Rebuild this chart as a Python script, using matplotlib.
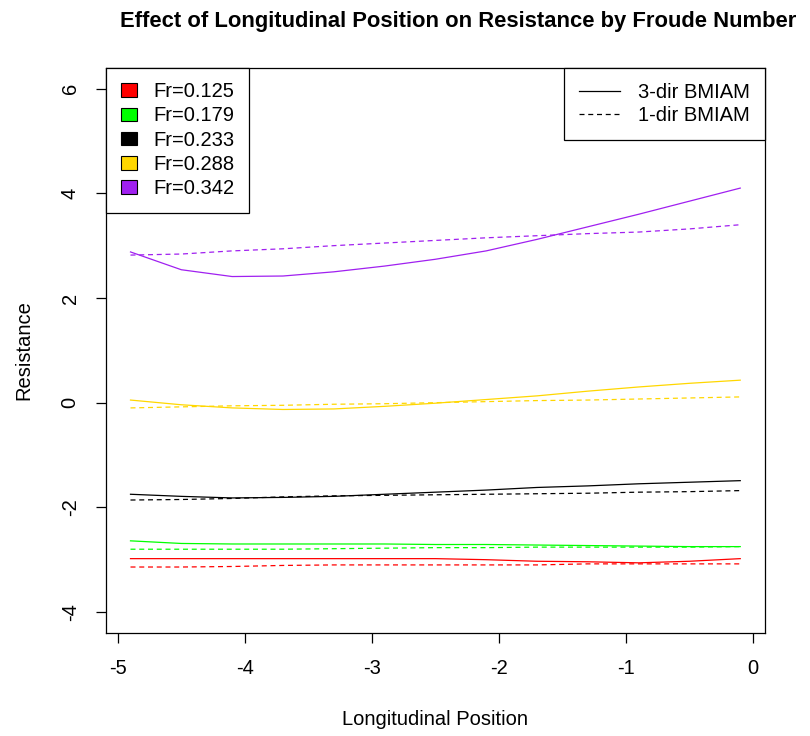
import matplotlib.pyplot as plt
from matplotlib.lines import Line2D
from matplotlib.patches import Patch

plt.rcParams['font.family'] = ['Liberation Sans', 'DejaVu Sans']
plt.rcParams['axes.unicode_minus'] = False

# longitudinal positions
pos = [-4.9, -4.5, -4.1, -3.7, -3.3, -2.9, -2.5, -2.1, -1.7, -1.3, -0.9, -0.5, -0.1]

froude = ['Fr=0.125', 'Fr=0.179', 'Fr=0.233', 'Fr=0.288', 'Fr=0.342']
colors = ['#FF0000', '#00FF00', '#000000', '#FFD700', '#A020F0']

# 3-dir BMIAM (solid)
res_3dir = [
    [-2.98, -2.98, -2.98, -2.98, -2.98, -2.98, -2.98, -3.00, -3.03, -3.04, -3.06, -3.03, -2.98],
    [-2.64, -2.69, -2.70, -2.70, -2.70, -2.70, -2.71, -2.71, -2.72, -2.73, -2.74, -2.75, -2.75],
    [-1.75, -1.79, -1.82, -1.81, -1.79, -1.75, -1.71, -1.67, -1.62, -1.59, -1.55, -1.52, -1.49],
    [0.05, -0.04, -0.10, -0.13, -0.12, -0.07, -0.01, 0.06, 0.13, 0.22, 0.30, 0.37, 0.43],
    [2.88, 2.54, 2.41, 2.42, 2.50, 2.61, 2.74, 2.90, 3.12, 3.36, 3.60, 3.85, 4.10],
]
# 1-dir BMIAM (dashed)
res_1dir = [
    [-3.14, -3.14, -3.13, -3.11, -3.10, -3.10, -3.10, -3.10, -3.10, -3.08, -3.08, -3.08, -3.08],
    [-2.80, -2.80, -2.80, -2.80, -2.79, -2.78, -2.77, -2.77, -2.76, -2.76, -2.76, -2.76, -2.75],
    [-1.86, -1.85, -1.83, -1.80, -1.78, -1.77, -1.76, -1.75, -1.74, -1.73, -1.71, -1.70, -1.68],
    [-0.10, -0.08, -0.06, -0.05, -0.03, -0.02, 0.00, 0.02, 0.04, 0.05, 0.07, 0.09, 0.11],
    [2.82, 2.84, 2.90, 2.94, 3.00, 3.05, 3.10, 3.15, 3.19, 3.23, 3.26, 3.32, 3.40],
]

fs = 14.5

fig = plt.figure(figsize=(8.1, 7.36), dpi=100)
ax = fig.add_axes([0.131, 0.140, 0.813, 0.768])

for i in range(len(froude)):
    ax.plot(pos, res_3dir[i], color=colors[i], lw=0.9)
    ax.plot(pos, res_1dir[i], color=colors[i], lw=0.9, ls=(0, (4, 3)))

ax.set_xlim(-5.092, 0.092)
ax.set_ylim(-4.4, 6.4)
ax.set_xticks([-5, -4, -3, -2, -1, 0])
ax.set_yticks([-4, -2, 0, 2, 4, 6])
ax.tick_params(axis='both', direction='out', length=7, width=0.9, labelsize=fs, pad=12)
for lab in ax.get_yticklabels():
    lab.set_rotation(90)
    lab.set_va('center')
for s in ax.spines.values():
    s.set_linewidth(0.9)

fig.text(458 / 810, 1 - 21 / 736,
         'Effect of Longitudinal Position on Resistance by Froude Number',
         fontsize=15.8, fontweight='bold', ha='center', va='center')
ax.set_xlabel('Longitudinal Position', fontsize=fs, labelpad=23)
ax.set_ylabel('Resistance', fontsize=fs, labelpad=20)

handles = [Patch(facecolor=c, edgecolor='black', linewidth=0.8) for c in colors]
leg1 = ax.legend(handles, froude, loc='upper left', borderaxespad=0, fontsize=fs,
                 fancybox=False, edgecolor='black', framealpha=1,
                 handlelength=0.8, handleheight=0.65, handletextpad=0.85,
                 labelspacing=0.26, borderpad=0.72)
leg1.get_frame().set_linewidth(0.9)
ax.add_artist(leg1)

lh = [Line2D([], [], color='black', lw=0.9),
      Line2D([], [], color='black', lw=0.9, ls=(0, (4, 3)))]
leg2 = ax.legend(lh, ['3-dir BMIAM', '1-dir BMIAM'], loc='upper right', borderaxespad=0,
                 fontsize=fs, fancybox=False, edgecolor='black', framealpha=1,
                 handlelength=2.0, handletextpad=0.9, labelspacing=0.2, borderpad=0.75)
leg2.get_frame().set_linewidth(0.9)

fig.savefig('out.png', dpi=100)
